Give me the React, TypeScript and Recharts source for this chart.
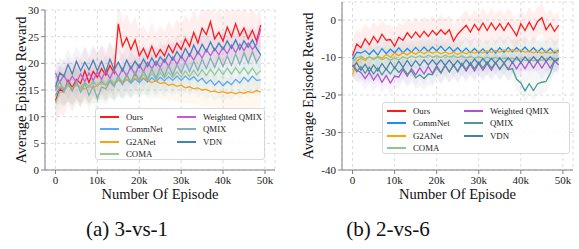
import { ComposedChart, Line, Area, XAxis, YAxis, CartesianGrid, Label } from "recharts"

const episodes = [
  0, 1000, 2000, 3000, 4000, 5000, 6000, 7000, 8000, 9000,
  10000, 11000, 12000, 13000, 14000, 15000, 16000, 17000, 18000, 19000,
  20000, 21000, 22000, 23000, 24000, 25000, 26000, 27000, 28000, 29000,
  30000, 31000, 32000, 33000, 34000, 35000, 36000, 37000, 38000, 39000,
  40000, 41000, 42000, 43000, 44000, 45000, 46000, 47000, 48000, 49000,
]

const xTicks = [0, 10000, 20000, 30000, 40000, 50000]
const leftYTicks = [0, 5, 10, 15, 20, 25, 30]
const rightYTicks = [-40, -30, -20, -10, 0]

const seriesKeys = ["ours", "commnet", "g2anet", "coma", "wqmix", "qmix", "vdn"]
const seriesNames = ["Ours", "CommNet", "G2ANet", "COMA", "Weighted QMIX", "QMIX", "VDN"]

// 3-vs-1
const oursL = [13.0, 15.2, 14.6, 16.8, 15.4, 17.0, 16.2, 18.6, 16.4, 18.5, 17.4, 19.0, 17.8, 19.6, 18.2, 27.4, 23.2, 24.8, 22.6, 24.4, 21.4, 22.8, 21.0, 23.2, 21.2, 22.6, 21.4, 23.4, 22.0, 23.8, 22.6, 24.6, 23.2, 25.8, 23.8, 26.6, 25.4, 27.8, 24.6, 25.8, 24.2, 26.8, 25.0, 27.4, 25.2, 26.6, 24.6, 26.2, 24.2, 27.2]
const commnetL = [14.0, 15.4, 15.0, 15.8, 15.2, 16.2, 15.4, 16.4, 15.6, 16.4, 15.8, 16.6, 15.9, 16.8, 16.0, 16.9, 16.2, 17.0, 16.3, 17.1, 16.4, 17.2, 16.5, 17.3, 16.6, 17.4, 16.7, 17.5, 16.8, 17.6, 16.8, 17.6, 16.9, 17.5, 16.6, 17.2, 16.2, 16.9, 15.9, 16.7, 15.8, 16.6, 16.0, 17.0, 16.3, 17.4, 16.6, 17.6, 16.8, 16.9]
const g2anetL = [15.2, 15.6, 15.3, 15.8, 15.4, 15.9, 15.5, 15.2, 15.7, 15.4, 15.9, 16.2, 16.0, 16.5, 16.2, 16.8, 16.5, 17.0, 16.7, 17.2, 16.9, 17.3, 16.8, 16.4, 16.7, 16.2, 16.4, 15.9, 16.1, 15.7, 15.9, 15.4, 15.6, 15.2, 15.4, 15.0, 15.1, 14.7, 14.8, 14.5, 14.7, 14.4, 14.6, 14.3, 14.6, 14.4, 14.7, 14.5, 14.9, 14.6]
const comaL = [12.5, 14.6, 14.6, 16.0, 15.0, 16.3, 15.2, 16.6, 15.4, 16.8, 15.7, 17.0, 16.0, 17.3, 16.2, 17.5, 16.5, 17.6, 16.6, 17.8, 16.8, 17.9, 16.9, 18.1, 17.0, 18.2, 17.2, 18.3, 17.3, 18.4, 17.4, 18.6, 17.5, 18.7, 17.6, 18.8, 17.7, 18.9, 17.8, 19.0, 17.9, 19.1, 18.0, 19.2, 18.1, 19.2, 18.0, 19.1, 17.9, 18.6]
const wqmixL = [18.2, 16.4, 17.8, 16.2, 17.6, 16.4, 18.0, 16.6, 18.2, 16.8, 18.4, 17.0, 18.6, 17.2, 18.8, 17.4, 19.0, 17.6, 19.4, 17.8, 19.8, 18.4, 20.2, 19.0, 20.4, 19.2, 20.8, 19.4, 21.2, 19.8, 21.4, 20.2, 21.8, 20.6, 22.2, 21.0, 22.6, 21.4, 22.8, 21.6, 23.0, 21.8, 23.4, 22.0, 23.6, 22.4, 23.8, 22.6, 23.6, 26.4]
const qmixL = [14.8, 16.6, 15.0, 16.4, 14.8, 16.6, 14.6, 16.2, 14.0, 15.8, 13.4, 15.6, 15.2, 16.6, 15.6, 17.6, 16.0, 18.0, 16.4, 18.4, 16.8, 18.6, 17.0, 19.0, 17.2, 19.2, 17.6, 19.6, 17.8, 19.8, 18.2, 20.2, 18.4, 20.4, 18.6, 20.8, 19.0, 21.0, 19.2, 21.2, 19.4, 21.4, 19.6, 21.8, 19.8, 22.0, 20.0, 22.2, 20.2, 21.6]
const vdnL = [15.5, 18.2, 17.6, 19.8, 18.0, 20.4, 18.6, 20.2, 18.8, 20.6, 18.6, 20.4, 18.4, 20.8, 18.8, 20.2, 18.6, 20.6, 19.0, 20.4, 19.2, 20.8, 19.4, 21.0, 19.6, 21.2, 20.2, 21.8, 20.6, 22.2, 21.0, 22.8, 21.4, 23.4, 21.8, 23.6, 22.2, 24.0, 22.4, 23.8, 22.6, 24.2, 22.8, 24.4, 22.6, 24.2, 23.0, 24.4, 22.8, 21.6]
const spreadL = [4.5, 3, 3, 3, 3, 3, 3]

// 2-vs-6
const oursR = [-9.5, -6.4, -7.4, -5.0, -6.6, -4.4, -6.0, -3.8, -5.4, -5.2, -7.0, -4.6, -5.4, -3.4, -4.8, -3.2, -4.6, -3.0, -4.4, -2.8, -4.0, -2.6, -3.8, -2.6, -5.6, -3.8, -2.6, -1.4, -3.2, -1.2, -2.8, -0.8, -2.8, -0.8, -2.6, -1.0, -2.8, -0.8, -2.4, -4.2, -1.0, -2.8, -0.6, -2.6, -0.4, 0.6, -2.6, -1.0, -3.0, -1.4]
const commnetR = [-10.5, -8.6, -8.8, -8.2, -9.2, -8.0, -9.4, -7.6, -9.0, -7.8, -8.8, -7.4, -8.8, -7.6, -8.6, -7.3, -8.5, -7.2, -8.4, -7.2, -8.2, -7.0, -8.3, -7.2, -8.4, -7.4, -8.6, -7.5, -8.7, -7.6, -8.8, -7.7, -8.9, -7.6, -8.8, -7.4, -8.6, -7.3, -8.5, -7.4, -8.4, -7.2, -8.5, -7.4, -8.6, -7.5, -8.7, -7.6, -8.8, -8.0]
const g2anetR = [-14.5, -11.0, -10.2, -10.8, -9.8, -10.5, -9.6, -10.2, -9.2, -9.9, -8.9, -9.5, -8.7, -9.3, -8.5, -9.1, -8.4, -9.0, -8.3, -8.9, -8.4, -9.0, -8.5, -9.1, -8.6, -9.2, -8.5, -9.0, -8.4, -8.9, -8.3, -8.8, -8.2, -8.7, -8.1, -8.6, -8.0, -8.5, -7.9, -8.4, -8.0, -8.6, -8.2, -8.8, -8.3, -8.9, -8.4, -8.9, -8.3, -8.6]
const comaR = [-11.0, -10.2, -9.6, -10.4, -9.8, -10.5, -9.9, -10.6, -10.0, -10.7, -10.1, -10.6, -9.8, -10.3, -9.6, -10.1, -9.5, -10.0, -9.4, -9.9, -9.5, -10.0, -9.4, -9.9, -9.5, -10.0, -9.6, -10.1, -9.7, -10.2, -9.8, -10.3, -9.9, -10.4, -10.0, -10.5, -10.1, -10.6, -10.2, -10.7, -10.3, -10.8, -10.4, -10.9, -10.5, -10.8, -10.3, -10.7, -10.2, -10.5]
const wqmixR = [-12.0, -13.4, -14.0, -15.6, -14.0, -16.0, -14.4, -16.6, -14.8, -16.8, -15.0, -15.2, -13.2, -15.0, -13.0, -14.6, -12.8, -14.4, -12.4, -14.2, -12.2, -14.0, -12.0, -13.8, -12.0, -13.8, -11.8, -13.6, -11.8, -13.6, -11.6, -13.4, -11.6, -13.4, -11.4, -13.2, -11.4, -13.2, -11.2, -13.0, -11.2, -13.0, -11.0, -12.8, -11.0, -12.8, -11.0, -12.8, -10.8, -12.0]
const qmixR = [-12.0, -13.8, -12.4, -14.2, -12.6, -14.4, -12.8, -14.6, -13.0, -14.4, -12.6, -14.0, -12.8, -14.4, -13.6, -15.4, -14.6, -15.6, -14.4, -14.6, -12.6, -14.2, -12.2, -13.8, -12.0, -13.6, -11.6, -13.2, -11.4, -13.0, -11.2, -12.8, -11.2, -12.8, -11.4, -13.0, -11.6, -13.2, -13.0, -15.8, -16.8, -18.9, -17.0, -18.8, -17.0, -16.6, -16.4, -14.2, -11.0, -10.6]
const vdnR = [-12.5, -11.4, -13.4, -11.8, -13.8, -12.0, -13.6, -11.6, -13.2, -11.2, -12.8, -11.0, -12.6, -10.8, -12.4, -10.8, -12.2, -10.6, -12.0, -10.6, -12.0, -10.6, -12.1, -10.7, -12.2, -10.8, -12.2, -10.6, -12.0, -10.4, -11.8, -10.3, -11.7, -10.2, -11.6, -10.1, -11.5, -10.0, -11.4, -9.9, -11.3, -9.8, -11.2, -9.8, -11.1, -9.7, -11.0, -9.8, -11.0, -10.2]
const spreadR = [4, 3, 3, 3, 3, 3, 3]

const colorsL = ["#ff1a1a", "#5aa8f8", "#f7a21b", "#98c898", "#c45ad8", "#80b0b0", "#4682b4"]
const colorsR = ["#ff1a1a", "#1e8cff", "#ffa500", "#8fc48f", "#b34fd1", "#4e9793", "#4a7fb3"]

const font = "'Liberation Serif', 'Times New Roman', serif"

function buildRows(values: number[][], spread: number[]) {
  return episodes.map((ep, i) => {
    const row: Record<string, any> = { ep }
    seriesKeys.forEach((k, s) => {
      row[k] = values[s][i]
      row[k + "Band"] = [values[s][i] - spread[s], values[s][i] + spread[s]]
    })
    return row
  })
}

const rowsL = buildRows([oursL, commnetL, g2anetL, comaL, wqmixL, qmixL, vdnL], spreadL)
const rowsR = buildRows([oursR, commnetR, g2anetR, comaR, wqmixR, qmixR, vdnR], spreadR)

const tickStyle = { fontSize: 11, fill: "#222", fontFamily: font }
const frame = "#808080"

interface PanelProps {
  rows: Record<string, any>[]
  colors: string[]
  left: number
  width: number
  top: number
  yAxisWidth: number
  yDomain: [number, number]
  yTicks: number[]
  yLabelX: number
  legend: { left: number; top: number; width: number; col2: number }
  caption: string
  captionX: number
}

function Panel({ rows, colors, left, width, top, yAxisWidth, yDomain, yTicks, yLabelX, legend, caption, captionX }: PanelProps) {
  const height = 205
  const plotBottom = height - 35
  const plotLeft = yAxisWidth
  const plotRight = width - 6
  const midX = (plotLeft + plotRight) / 2
  const midY = (top + plotBottom) / 2
  return (
    <div style={{ position: "absolute", left, top: 0, width, height: 249 }}>
      <ComposedChart width={width} height={height} data={rows} margin={{ top, right: 6, bottom: 0, left: 0 }}>
        <CartesianGrid stroke="#dcdcdc" strokeDasharray="3 3" />
        {seriesKeys.map((k, s) => (
          <Area
            key={k + "Band"}
            dataKey={k + "Band"}
            stroke="none"
            fill={colors[s]}
            fillOpacity={0.07}
            isAnimationActive={false}
            activeDot={false}
          />
        ))}
        {seriesKeys.map((k, s) => (
          <Line
            key={k}
            dataKey={k}
            stroke={colors[s]}
            strokeWidth={1.3}
            dot={false}
            type="linear"
            isAnimationActive={false}
          />
        ))}
        <XAxis
          dataKey="ep"
          type="number"
          domain={[-2500, 52400]}
          ticks={xTicks}
          allowDataOverflow
          tickFormatter={(v) => (v === 0 ? "0" : `${v / 1000}k`)}
          tick={tickStyle}
          tickSize={4}
          tickLine={{ stroke: frame }}
          axisLine={{ stroke: frame }}
          height={35}
        >
          <Label
            content={() => (
              <text x={midX} y={194} textAnchor="middle" dominantBaseline="central" fontSize={14.5} fontFamily={font} fill="#111">
                Number Of Episode
              </text>
            )}
          />
        </XAxis>
        <XAxis xAxisId="top" orientation="top" type="number" domain={[-2500, 52400]} height={0} tick={false} tickLine={false} axisLine={{ stroke: frame }} />
        <YAxis
          type="number"
          domain={yDomain}
          ticks={yTicks}
          allowDataOverflow
          tick={tickStyle}
          tickSize={4}
          tickLine={{ stroke: frame }}
          axisLine={{ stroke: frame }}
          width={yAxisWidth}
        >
          <Label
            content={() => (
              <text
                x={yLabelX}
                y={midY}
                transform={`rotate(-90 ${yLabelX} ${midY})`}
                textAnchor="middle"
                dominantBaseline="central"
                fontSize={14.5}
                fontFamily={font}
                fill="#111"
              >
                Average Episode Reward
              </text>
            )}
          />
        </YAxis>
        <YAxis yAxisId="right" orientation="right" type="number" domain={yDomain} width={0} tick={false} tickLine={false} axisLine={{ stroke: frame }} />
      </ComposedChart>
      <div
        style={{
          position: "absolute",
          left: legend.left,
          top: legend.top,
          width: legend.width,
          height: 52,
          boxSizing: "border-box",
          border: "1px solid #d8d8d8",
          borderRadius: 3,
          background: "rgba(255,255,255,0.85)",
          fontFamily: font,
          fontSize: 8.8,
          color: "#222",
        }}
      >
        {seriesNames.map((name, s) => {
          const col = s < 4 ? 0 : 1
          const row = s < 4 ? s : s - 4
          return (
            <div
              key={name}
              style={{
                position: "absolute",
                left: col === 0 ? 4 : legend.col2,
                top: 2 + row * 12.4,
                height: 12,
                display: "flex",
                alignItems: "center",
                whiteSpace: "nowrap",
              }}
            >
              <span style={{ display: "inline-block", width: 19, height: 1.8, background: colors[s], marginRight: 7 }} />
              {name}
            </div>
          )
        })}
      </div>
      <div
        style={{
          position: "absolute",
          left: captionX - 80,
          width: 160,
          top: 217,
          textAlign: "center",
          fontFamily: font,
          fontSize: 21,
          color: "#111",
        }}
      >
        {caption}
      </div>
    </div>
  )
}

export default function App() {
  return (
    <div style={{ position: "absolute", left: 0, top: 0, width: 579, height: 249, background: "#fff", overflow: "hidden" }}>
      <Panel
        rows={rowsL}
        colors={colorsL}
        left={0}
        width={281}
        top={10}
        yAxisWidth={45}
        yDomain={[0, 30]}
        yTicks={leftYTicks}
        yLabelX={21}
        legend={{ left: 95, top: 108, width: 170, col2: 81 }}
        caption="(a) 3-vs-1"
        captionX={127}
      />
      <Panel
        rows={rowsR}
        colors={colorsR}
        left={290}
        width={289}
        top={2}
        yAxisWidth={52}
        yDomain={[-40, 4.8]}
        yTicks={rightYTicks}
        yLabelX={18}
        legend={{ left: 92, top: 102, width: 188, col2: 81 }}
        caption="(b) 2-vs-6"
        captionX={98}
      />
    </div>
  )
}
